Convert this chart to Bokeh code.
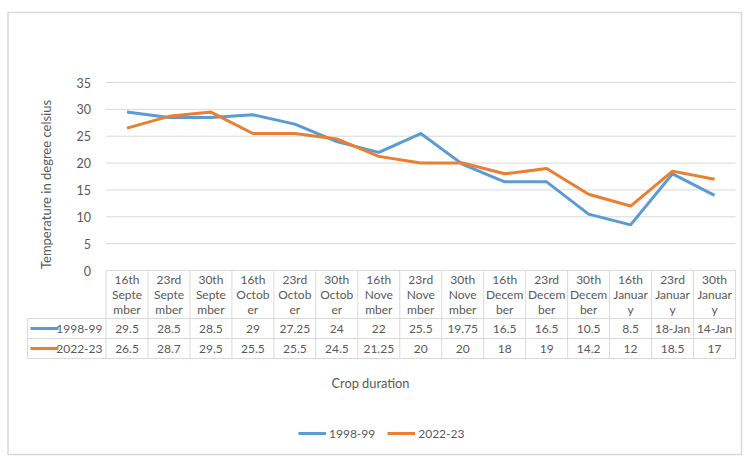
import numpy as np
from bokeh.plotting import figure
from bokeh.models import Range1d, LinearAxis, FixedTicker, Legend, LegendItem
from bokeh.core.properties import value
from bokeh.embed import file_html
from bokeh.resources import INLINE

# ---------------- data ----------------
categories = ["16th\nSepte\nmber", "23rd\nSepte\nmber", "30th\nSepte\nmber",
              "16th\nOctob\ner", "23rd\nOctob\ner", "30th\nOctob\ner",
              "16th\nNove\nmber", "23rd\nNove\nmber", "30th\nNove\nmber",
              "16th\nDecem\nber", "23rd\nDecem\nber", "30th\nDecem\nber",
              "16th\nJanuar\ny", "23rd\nJanuar\ny", "30th\nJanuar\ny"]
series_names = ["1998-99", "2022-23"]
s1998 = [29.5, 28.5, 28.5, 29, 27.25, 24, 22, 25.5, 19.75, 16.5, 16.5, 10.5, 8.5, 18, 14]
s2022 = [26.5, 28.7, 29.5, 25.5, 25.5, 24.5, 21.25, 20, 20, 18, 19, 14.2, 12, 18.5, 17]
t1998 = ["29.5", "28.5", "28.5", "29", "27.25", "24", "22", "25.5", "19.75",
         "16.5", "16.5", "10.5", "8.5", "18-Jan", "14-Jan"]
t2022 = ["26.5", "28.7", "29.5", "25.5", "25.5", "24.5", "21.25", "20", "20",
         "18", "19", "14.2", "12", "18.5", "17"]
yticks = [0, 5, 10, 15, 20, 25, 30, 35]

# ---------------- layout (page pixels) ----------------
OX, OY = 0, 0          # where the canvas lands on the page
W, H = 746, 458
PX_LEFT, PX_RIGHT = 105.5, 735.0
PX_Y0, PX_YTOP = 270.0, 82.0
n = len(categories)
col_w = (PX_RIGHT - PX_LEFT) / n
unit = (PX_Y0 - PX_YTOP) / yticks[-1]


def dx(px):
    return -0.5 + (px - PX_LEFT) / col_w


def dy(py):
    return (PX_Y0 - py) / unit


BLUE = "#5B9BD5"
ORANGE = "#ED7D31"
GRID = "#D9D9D9"
TXT = "#595959"
FONT = value("Lato")

p = figure(width=W, height=H, output_backend="svg", toolbar_location=None,
           x_range=Range1d(dx(OX), dx(OX + W)), y_range=Range1d(dy(OY + H), dy(OY)),
           x_axis_location=None, y_axis_location=None, min_border=0,
           outline_line_color=None, background_fill_color="white",
           border_fill_color="white")
p.grid.visible = False

idx = list(range(n))

# outer chart border
p.quad(left=[dx(7.5)], right=[dx(741)], top=[dy(12)], bottom=[dy(454)],
       fill_alpha=0, line_color=GRID, line_width=1.5)

# gridlines
p.segment(x0=[-0.5] * len(yticks), x1=[n - 0.5] * len(yticks), y0=yticks, y1=yticks,
          line_color=GRID, line_width=1)

# table lines
vx = [-0.5 + k for k in range(n + 1)]
p.segment(x0=vx, x1=vx, y0=[0] * len(vx), y1=[dy(358)] * len(vx), line_color=GRID, line_width=1)
p.segment(x0=[dx(27)], x1=[dx(27)], y0=[dy(318)], y1=[dy(358)], line_color=GRID, line_width=1)
hy = [dy(318), dy(338), dy(358)]
p.segment(x0=[dx(27)] * 3, x1=[n - 0.5] * 3, y0=hy, y1=hy, line_color=GRID, line_width=1)

# table header (category labels)
p.text(x=idx, y=[dy(294)] * n, text=categories, text_align="center", text_baseline="middle",
       text_font=FONT, text_font_size="12px", text_color=TXT, text_line_height=1.03)
# table rows
p.text(x=idx, y=[dy(328)] * n, text=t1998, text_align="center", text_baseline="middle",
       text_font=FONT, text_font_size="12px", text_color=TXT)
p.text(x=idx, y=[dy(348)] * n, text=t2022, text_align="center", text_baseline="middle",
       text_font=FONT, text_font_size="12px", text_color=TXT)
# legend keys in table
p.segment(x0=[dx(30)], x1=[dx(58)], y0=[dy(328)], y1=[dy(328)], line_color=BLUE, line_width=3)
p.segment(x0=[dx(30)], x1=[dx(58)], y0=[dy(348)], y1=[dy(348)], line_color=ORANGE, line_width=3)
p.text(x=[dx(102), dx(102)], y=[dy(328), dy(348)], text=series_names, text_align="right",
       text_baseline="middle", text_font=FONT, text_font_size="12px", text_color=TXT)

# series lines
r1 = p.line(idx, s1998, line_color=BLUE, line_width=3, line_join="round")
r2 = p.line(idx, s2022, line_color=ORANGE, line_width=3, line_join="round")

# y axis
yax = LinearAxis(fixed_location=-0.5, ticker=FixedTicker(ticks=yticks), bounds=(0, 35))
yax.axis_line_color = None
yax.major_tick_line_color = None
yax.minor_tick_line_color = None
yax.major_label_standoff = 9
yax.major_label_text_font = "Lato"
yax.major_label_text_font_size = "12.5px"
yax.major_label_text_color = TXT
p.add_layout(yax, "left")

# axis titles
p.text(x=[dx(45)], y=[dy(184)], text=["Temperature in degree celsius"], angle=np.pi / 2,
       text_align="center", text_baseline="middle", text_font=FONT,
       text_font_size="13px", text_color=TXT)
p.text(x=[dx(370)], y=[dy(382)], text=["Crop duration"], text_align="center",
       text_baseline="middle", text_font=FONT, text_font_size="12.8px", text_color=TXT)

# legend
legend = Legend(items=[LegendItem(label=series_names[0], renderers=[r1]),
                       LegendItem(label=series_names[1], renderers=[r2])],
                orientation="horizontal", location=(298 - OX, OY + H - 443),
                glyph_width=28, glyph_height=20,
                label_standoff=3, spacing=12, padding=0, margin=0, border_line_color=None,
                background_fill_alpha=0, label_text_font="Lato", label_text_font_size="12px",
                label_text_color=TXT, label_height=20)
p.add_layout(legend)

open("out.html", "w").write(file_html(p, INLINE))
